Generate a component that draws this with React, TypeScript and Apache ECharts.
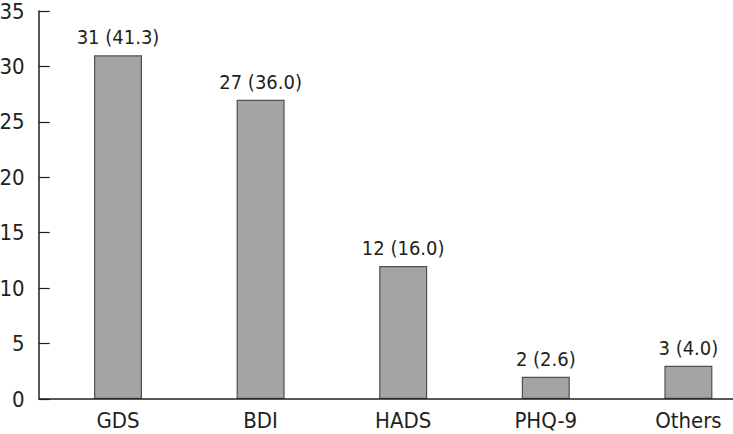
import React, { useEffect, useRef } from "react";
import * as echarts from "echarts";

const categories = ["GDS", "BDI", "HADS", "PHQ-9", "Others"];
const counts = [31, 27, 12, 2, 3];
const percents = ["41.3", "36.0", "16.0", "2.6", "4.0"];
const yTicks = { min: 0, max: 35, interval: 5 };

const FONT = "'DejaVu Sans Condensed', 'Liberation Sans Narrow', sans-serif";

export default function App() {
  const ref = useRef<HTMLDivElement>(null);
  useEffect(() => {
    if (!ref.current) return;
    const chart = echarts.init(ref.current, undefined, { renderer: "svg" });
    const gridLeft = 46.7;
    const gridTop = 11;
    const gridBottomY = 399;
    chart.setOption({
      animation: false,
      backgroundColor: "#ffffff",
      grid: {
        left: gridLeft,
        width: 713,
        top: gridTop,
        height: gridBottomY - gridTop,
        containLabel: false,
        outerBoundsMode: "none",
      },
      xAxis: {
        type: "category",
        data: categories,
        boundaryGap: true,
        axisLine: { show: false },
        axisTick: { show: false },
        axisLabel: { color: "#231f20", fontSize: 22, fontFamily: FONT, margin: 10 },
      },
      yAxis: {
        type: "value",
        min: yTicks.min,
        max: yTicks.max,
        interval: yTicks.interval,
        offset: 8,
        splitLine: { show: false },
        axisLine: { show: true, lineStyle: { color: "#231f20", width: 1.5 } },
        axisTick: { show: true, inside: true, length: 11, lineStyle: { color: "#231f20", width: 1.2 } },
        axisLabel: { color: "#231f20", fontSize: 22, fontFamily: FONT, margin: 14 },
      },
      graphic: [
        {
          type: "line",
          shape: { x1: 39, y1: gridBottomY, x2: 733, y2: gridBottomY },
          style: { stroke: "#231f20", lineWidth: 1.5 },
          z: 10,
        },
      ],
      series: [
        {
          type: "bar",
          data: counts,
          barWidth: 48,
          itemStyle: { color: "#a3a4a3", borderColor: "#505050", borderWidth: 1.2 },
          label: {
            show: true,
            position: "top",
            distance: 8,
            color: "#231f20",
            fontSize: 20,
            fontFamily: FONT,
            formatter: (p: any) => `${counts[p.dataIndex]} (${percents[p.dataIndex]})`,
          },
        },
      ],
    });
    return () => chart.dispose();
  }, []);
  return <div ref={ref} style={{ width: 733, height: 434, position: "absolute", left: 0, top: 0 }} />;
}
